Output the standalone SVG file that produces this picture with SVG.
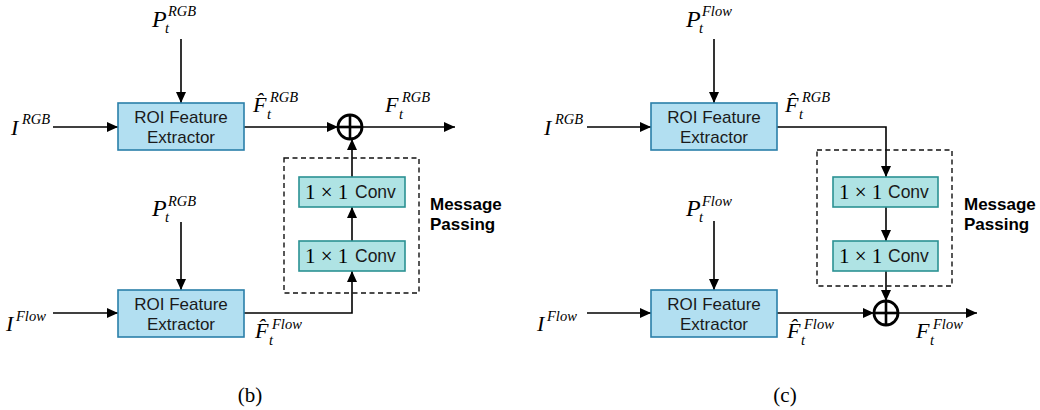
<svg xmlns="http://www.w3.org/2000/svg" width="1040" height="410" viewBox="0 0 1040 410">
<style>
.roi{fill:#b2dff1;stroke:#2a7fa9;stroke-width:1.6}
.conv{fill:#afe3e4;stroke:#2b9193;stroke-width:1.6}
.dash{fill:none;stroke:#111;stroke-width:1.4;stroke-dasharray:5,3.5}
.ln{fill:none;stroke:#000;stroke-width:2.6}
.arr{fill:none;stroke:#000;stroke-width:1.6;marker-end:url(#ah)}
.sum{fill:#fff;stroke:#000;stroke-width:2.8}
.sans{font-family:"Liberation Sans",Arial,sans-serif;font-size:17px;fill:#1a1a1a}
.cv{font-family:"Liberation Sans",Arial,sans-serif;font-size:17.5px;fill:#1a1a1a}
.mp{font-family:"Liberation Sans",Arial,sans-serif;font-size:17px;font-weight:bold;fill:#000}
.m{font-family:"Liberation Serif","Times New Roman",serif;font-style:italic;font-size:22px;fill:#000}
.p{font-size:24px}
.s{font-size:14.5px}
.r{font-family:"Liberation Serif","Times New Roman",serif;font-size:21px;fill:#000}
.cap{font-family:"Liberation Serif","Times New Roman",serif;font-size:21px;fill:#000}
</style>
<defs>
<marker id="ah" markerUnits="userSpaceOnUse" markerWidth="12" markerHeight="10" refX="11" refY="5" orient="auto">
<path d="M0,0 L11,5 L0,10 z" fill="#000"/>
</marker>
</defs>

<g id="connectors">
<line class="arr" x1="181" y1="39" x2="181" y2="103"/>
<line class="arr" x1="53" y1="127" x2="118" y2="127"/>
<line class="arr" x1="244" y1="127" x2="338" y2="127"/>
<line class="arr" x1="362" y1="127" x2="455" y2="127"/>
<line class="arr" x1="352" y1="177" x2="352" y2="139"/>
<line class="arr" x1="352" y1="241" x2="352" y2="207"/>
<line class="arr" x1="181" y1="222" x2="181" y2="290"/>
<line class="arr" x1="53" y1="313" x2="118" y2="313"/>
<polyline class="arr" points="244,313 352,313 352,271"/>
<line class="arr" x1="714" y1="39" x2="714" y2="103"/>
<line class="arr" x1="587" y1="127" x2="651" y2="127"/>
<polyline class="arr" points="777,127 886,127 886,177"/>
<line class="arr" x1="886" y1="207" x2="886" y2="241"/>
<line class="arr" x1="886" y1="271" x2="886" y2="301"/>
<line class="arr" x1="714" y1="221" x2="714" y2="290"/>
<line class="arr" x1="587" y1="313" x2="651" y2="313"/>
<line class="arr" x1="777" y1="313" x2="874" y2="313"/>
<line class="arr" x1="898" y1="313" x2="977" y2="313"/>
</g>

<!-- ===== panel (b) ===== -->
<g id="b-P-top">
<text class="m"><tspan class="p" x="152" y="27">P</tspan><tspan class="s" x="168" y="16">RGB</tspan><tspan class="s" x="165" y="33">t</tspan></text>
</g>
<g id="b-I-rgb">
<text class="m"><tspan x="11" y="135">I</tspan><tspan class="s" x="22" y="124">RGB</tspan></text>
</g>
<g id="b-roi-rgb">
<rect class="roi" x="118" y="103" width="126" height="47"/>
<text class="sans" x="181" y="123" text-anchor="middle">ROI Feature</text>
<text class="sans" x="181" y="143" text-anchor="middle">Extractor</text>
</g>
<g id="b-Fhat-rgb">
<text class="m"><tspan x="253" y="112">F&#x302;</tspan><tspan class="s" x="270" y="102">RGB</tspan><tspan class="s" x="267" y="119">t</tspan></text>
</g>
<g id="b-sum">
<circle class="sum" cx="350" cy="127" r="12"/>
<line class="ln" x1="338" y1="127" x2="362" y2="127"/>
<line class="ln" x1="350" y1="115" x2="350" y2="139"/>
</g>
<g id="b-F-rgb">
<text class="m"><tspan x="385" y="112">F</tspan><tspan class="s" x="402" y="102">RGB</tspan><tspan class="s" x="399" y="119">t</tspan></text>
</g>
<g id="b-mp">
<rect class="dash" x="284" y="158" width="135" height="135"/>
<text class="mp" x="430" y="210">Message</text>
<text class="mp" x="430" y="230">Passing</text>
</g>
<g id="b-conv1">
<rect class="conv" x="299" y="177" width="106" height="30"/>
<text class="r" x="305" y="199">1 × 1</text><text class="cv" x="355" y="198">Conv</text>
</g>
<g id="b-conv2">
<rect class="conv" x="299" y="241" width="106" height="30"/>
<text class="r" x="305" y="263">1 × 1</text><text class="cv" x="355" y="262">Conv</text>
</g>
<g id="b-P-low">
<text class="m"><tspan class="p" x="152" y="216">P</tspan><tspan class="s" x="168" y="206">RGB</tspan><tspan class="s" x="165" y="222">t</tspan></text>
</g>
<g id="b-I-flow">
<text class="m"><tspan x="6" y="331">I</tspan><tspan class="s" x="16" y="321">Flow</tspan></text>
</g>
<g id="b-roi-flow">
<rect class="roi" x="118" y="290" width="126" height="47"/>
<text class="sans" x="181" y="310" text-anchor="middle">ROI Feature</text>
<text class="sans" x="181" y="330" text-anchor="middle">Extractor</text>
</g>
<g id="b-Fhat-flow">
<text class="m"><tspan x="255" y="338">F&#x302;</tspan><tspan class="s" x="272" y="329">Flow</tspan><tspan class="s" x="269" y="345">t</tspan></text>
</g>
<text class="cap" x="250" y="402" text-anchor="middle">(b)</text>

<!-- ===== panel (c) ===== -->
<g id="c-P-top">
<text class="m"><tspan class="p" x="686" y="27">P</tspan><tspan class="s" x="702" y="16">Flow</tspan><tspan class="s" x="699" y="33">t</tspan></text>
</g>
<g id="c-I-rgb">
<text class="m"><tspan x="544" y="135">I</tspan><tspan class="s" x="555" y="124">RGB</tspan></text>
</g>
<g id="c-roi-rgb">
<rect class="roi" x="651" y="103" width="126" height="47"/>
<text class="sans" x="714" y="123" text-anchor="middle">ROI Feature</text>
<text class="sans" x="714" y="143" text-anchor="middle">Extractor</text>
</g>
<g id="c-Fhat-rgb">
<text class="m"><tspan x="785" y="112">F&#x302;</tspan><tspan class="s" x="802" y="102">RGB</tspan><tspan class="s" x="799" y="119">t</tspan></text>
</g>
<g id="c-mp">
<rect class="dash" x="817" y="150" width="135" height="136"/>
<text class="mp" x="964" y="210">Message</text>
<text class="mp" x="964" y="230">Passing</text>
</g>
<g id="c-conv1">
<rect class="conv" x="833" y="177" width="105" height="30"/>
<text class="r" x="839" y="199">1 × 1</text><text class="cv" x="888" y="198">Conv</text>
</g>
<g id="c-conv2">
<rect class="conv" x="833" y="241" width="105" height="30"/>
<text class="r" x="839" y="263">1 × 1</text><text class="cv" x="888" y="262">Conv</text>
</g>
<g id="c-P-low">
<text class="m"><tspan class="p" x="686" y="216">P</tspan><tspan class="s" x="702" y="206">Flow</tspan><tspan class="s" x="699" y="222">t</tspan></text>
</g>
<g id="c-I-flow">
<text class="m"><tspan x="537" y="331">I</tspan><tspan class="s" x="547" y="321">Flow</tspan></text>
</g>
<g id="c-roi-flow">
<rect class="roi" x="651" y="290" width="126" height="47"/>
<text class="sans" x="714" y="310" text-anchor="middle">ROI Feature</text>
<text class="sans" x="714" y="330" text-anchor="middle">Extractor</text>
</g>
<g id="c-Fhat-flow">
<text class="m"><tspan x="787" y="338">F&#x302;</tspan><tspan class="s" x="804" y="329">Flow</tspan><tspan class="s" x="801" y="345">t</tspan></text>
</g>
<g id="c-sum">
<circle class="sum" cx="886" cy="313" r="12"/>
<line class="ln" x1="874" y1="313" x2="898" y2="313"/>
<line class="ln" x1="886" y1="301" x2="886" y2="325"/>
</g>
<g id="c-F-flow">
<text class="m"><tspan x="916" y="338">F</tspan><tspan class="s" x="933" y="329">Flow</tspan><tspan class="s" x="930" y="345">t</tspan></text>
</g>
<text class="cap" x="785" y="402" text-anchor="middle">(c)</text>
</svg>
